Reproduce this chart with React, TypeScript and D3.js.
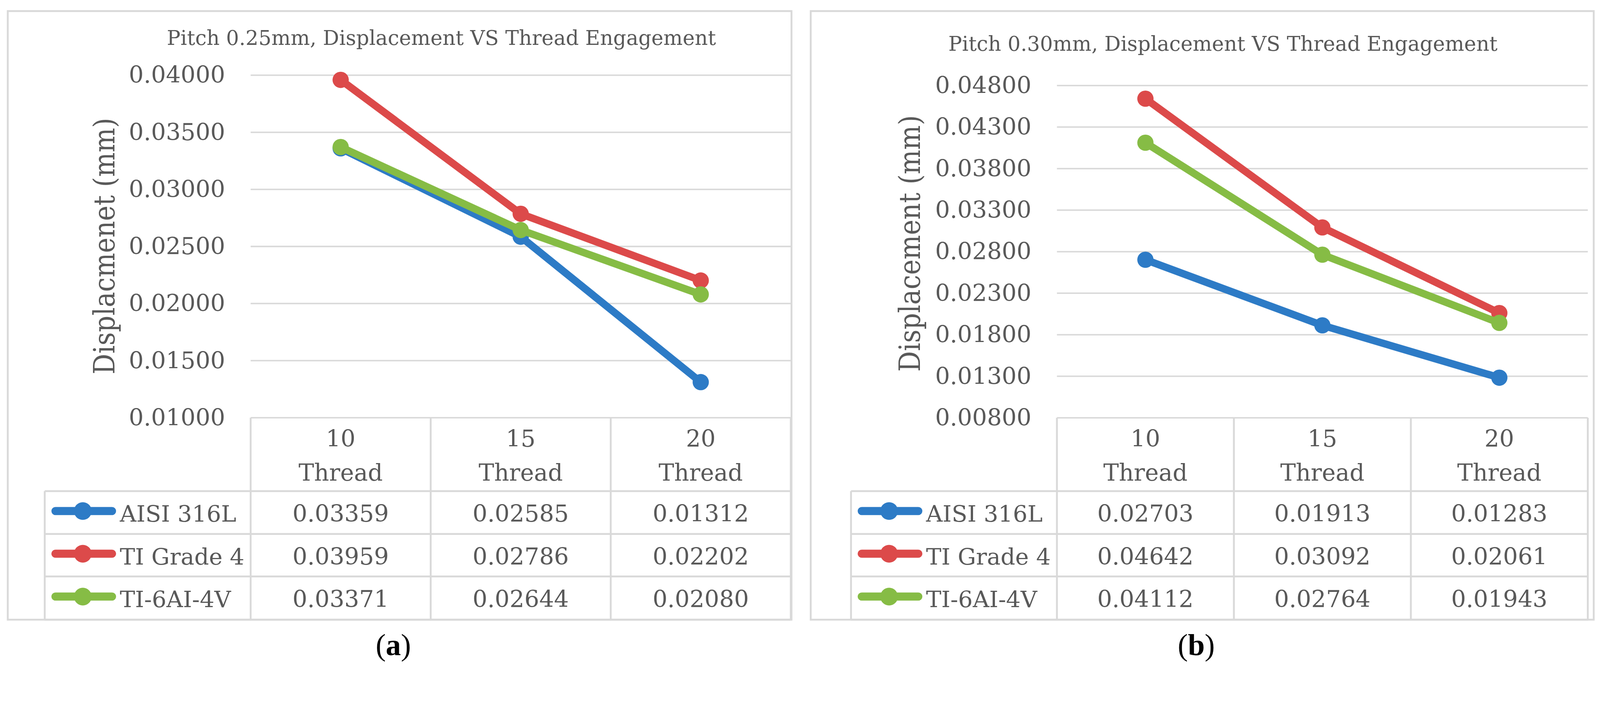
import React from 'react';
import * as d3 from 'd3';

// ---------- data ----------
const catNumbers = ['10', '15', '20'];
const catWords = ['Thread', 'Thread', 'Thread'];
const categories = ['10 Thread', '15 Thread', '20 Thread'];
const seriesNames = ['AISI 316L', 'TI Grade 4', 'TI-6AI-4V'];
const seriesColors = ['#2D7BC6', '#DC4A4A', '#86BC45'];

const aAISI = [0.03359, 0.02585, 0.01312];
const aGrade4 = [0.03959, 0.02786, 0.02202];
const aTi64 = [0.03371, 0.02644, 0.0208];
const bAISI = [0.02703, 0.01913, 0.01283];
const bGrade4 = [0.04642, 0.03092, 0.02061];
const bTi64 = [0.04112, 0.02764, 0.01943];

const aTicks = [0.01, 0.015, 0.02, 0.025, 0.03, 0.035, 0.04];
const bTicks = [0.008, 0.013, 0.018, 0.023, 0.028, 0.033, 0.038, 0.043, 0.048];

const aTitle = 'Pitch 0.25mm, Displacement VS Thread Engagement';
const bTitle = 'Pitch 0.30mm, Displacement VS Thread Engagement';
const aYTitle = 'Displacmenet (mm)';
const bYTitle = 'Displacement (mm)';
const captions = ['a', 'b'];

// ---------- style ----------
const FONT = "'DejaVu Serif', serif";
const TXT = '#595959';
const GRID = '#D9D9D9';
const fmt = d3.format('.5f');

type PanelCfg = {
  frame: { x0: number; x1: number; y0: number; y1: number };
  plot: { left: number; right: number; top: number; bottom: number };
  legendLeft: number;
  title: string;
  titleX: number;
  titleY: number;
  yTitle: string;
  yTitleX: number;
  yTitleY: number;
  tickRight: number;
  ticks: number[];
  series: number[][];
  caption: string;
  captionX: number;
};

const headerBottom = 1329;
const rowBottoms = [1445, 1560, 1677];

function Panel({ cfg }: { cfg: PanelCfg }) {
  const { frame, plot } = cfg;
  const yMin = d3.min(cfg.ticks) as number;
  const yMax = d3.max(cfg.ticks) as number;
  const y = d3.scaleLinear().domain([yMin, yMax]).range([plot.bottom, plot.top]);
  const x = d3.scaleBand<string>().domain(categories).range([plot.left, plot.right]).paddingInner(0).paddingOuter(0);
  const cx = (c: string) => (x(c) as number) + x.bandwidth() / 2;
  const line = d3
    .line<number>()
    .x((_, i) => cx(categories[i]))
    .y((d) => y(d));

  const rowTops = [headerBottom, rowBottoms[0], rowBottoms[1]];
  const lg = cfg.legendLeft;

  return (
    <g>
      <rect
        x={frame.x0}
        y={frame.y0}
        width={frame.x1 - frame.x0}
        height={frame.y1 - frame.y0}
        fill="#fff"
        stroke={GRID}
        strokeWidth={5}
      />
      <text x={cfg.titleX} y={cfg.titleY} textAnchor="middle" fontFamily={FONT} fontSize={55} fill={TXT}>
        {cfg.title}
      </text>
      {cfg.ticks.map((t) => (
        <line key={'g' + t} x1={plot.left} x2={plot.right} y1={y(t)} y2={y(t)} stroke={GRID} strokeWidth={4} />
      ))}
      {cfg.ticks.map((t) => (
        <text
          key={'t' + t}
          x={cfg.tickRight}
          y={y(t) + 21}
          textAnchor="end"
          fontFamily={FONT}
          fontSize={63}
          fill={TXT}
        >
          {fmt(t)}
        </text>
      ))}
      <text
        transform={`translate(${cfg.yTitleX},${cfg.yTitleY}) rotate(-90) scale(1,1.12)`}
        textAnchor="middle"
        fontFamily={FONT}
        fontSize={70}
        fill={TXT}
      >
        {cfg.yTitle}
      </text>
      {categories.map((c, i) => (
        <g key={'h' + c}>
          <text x={cx(c)} y={1209} textAnchor="middle" fontFamily={FONT} fontSize={63} fill={TXT}>
            {catNumbers[i]}
          </text>
          <text x={cx(c)} y={1301} textAnchor="middle" fontFamily={FONT} fontSize={63} fill={TXT}>
            {catWords[i]}
          </text>
        </g>
      ))}
      <line x1={lg} x2={plot.right} y1={headerBottom} y2={headerBottom} stroke={GRID} strokeWidth={5} />
      {rowBottoms.map((rb) => (
        <line key={'rb' + rb} x1={lg} x2={plot.right} y1={rb} y2={rb} stroke={GRID} strokeWidth={5} />
      ))}
      <line x1={lg} x2={lg} y1={headerBottom} y2={rowBottoms[2]} stroke={GRID} strokeWidth={5} />
      {[...categories.map((c) => x(c) as number), plot.right].map((vx, i) => (
        <line key={'v' + i} x1={vx} x2={vx} y1={plot.bottom} y2={rowBottoms[2]} stroke={GRID} strokeWidth={5} />
      ))}
      {cfg.series.map((vals, si) => {
        const mid = (rowTops[si] + rowBottoms[si]) / 2;
        return (
          <g key={'r' + si}>
            <line
              x1={lg + 29}
              x2={lg + 182}
              y1={mid - 4}
              y2={mid - 4}
              stroke={seriesColors[si]}
              strokeWidth={22}
              strokeLinecap="round"
            />
            <circle cx={lg + 103} cy={mid - 4} r={24} fill={seriesColors[si]} />
            <text x={lg + 203} y={mid + 25} fontFamily={FONT} fontSize={62} fill={TXT}>
              {seriesNames[si]}
            </text>
            {vals.map((v, ci) => (
              <text
                key={'c' + ci}
                x={cx(categories[ci])}
                y={mid + 25}
                textAnchor="middle"
                fontFamily={FONT}
                fontSize={63}
                fill={TXT}
              >
                {fmt(v)}
              </text>
            ))}
          </g>
        );
      })}
      {cfg.series.map((vals, si) => (
        <g key={'s' + si}>
          <path
            d={line(vals) as string}
            fill="none"
            stroke={seriesColors[si]}
            strokeWidth={20}
            strokeLinejoin="round"
          />
          {vals.map((v, ci) => (
            <circle key={ci} cx={cx(categories[ci])} cy={y(v)} r={22} fill={seriesColors[si]} />
          ))}
        </g>
      ))}
      <text x={cfg.captionX} y={1773} textAnchor="middle" fontFamily="'Liberation Serif', serif" fontSize={82} fill="#000">
        (<tspan fontWeight="bold">{cfg.caption}</tspan>)
      </text>
    </g>
  );
}

const panelA: PanelCfg = {
  frame: { x0: 21, x1: 2141, y0: 30, y1: 1677 },
  plot: { left: 678, right: 2139, top: 203.5, bottom: 1130.5 },
  legendLeft: 121,
  title: aTitle,
  titleX: 1194,
  titleY: 121,
  yTitle: aYTitle,
  yTitleX: 310,
  yTitleY: 666,
  tickRight: 609,
  ticks: aTicks,
  series: [aAISI, aGrade4, aTi64],
  caption: captions[0],
  captionX: 1064,
};

const panelB: PanelCfg = {
  frame: { x0: 2193, x1: 4311, y0: 30, y1: 1677 },
  plot: { left: 2859, right: 4295, top: 231.5, bottom: 1130.7 },
  legendLeft: 2302,
  title: bTitle,
  titleX: 3308,
  titleY: 137,
  yTitle: bYTitle,
  yTitleX: 2488,
  yTitleY: 659,
  tickRight: 2790,
  ticks: bTicks,
  series: [bAISI, bGrade4, bTi64],
  caption: captions[1],
  captionX: 3236,
};

export default function App() {
  return (
    <svg
      viewBox="0 0 4328 1821"
      preserveAspectRatio="xMidYMin meet"
      style={{ position: 'fixed', left: 0, top: 0, width: '100vw', height: '100vh', background: '#fff', display: 'block' }}
    >
      <rect x={0} y={0} width={4328} height={1821} fill="#fff" />
      <Panel cfg={panelA} />
      <Panel cfg={panelB} />
    </svg>
  );
}
